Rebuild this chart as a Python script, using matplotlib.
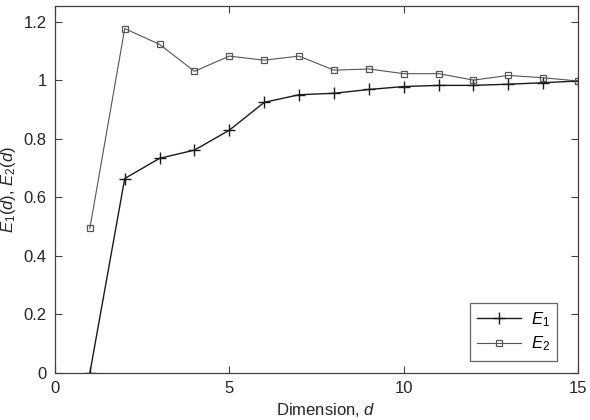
import matplotlib
matplotlib.use("Agg")
import matplotlib.pyplot as plt

plt.rcParams['font.family'] = ['Liberation Sans', 'DejaVu Sans']
plt.rcParams['mathtext.fontset'] = 'custom'
plt.rcParams['mathtext.rm'] = 'Liberation Sans'
plt.rcParams['mathtext.it'] = 'Liberation Sans:italic'

d = list(range(1, 16))
E1 = [0.0, 0.664, 0.733, 0.761, 0.829, 0.924, 0.950, 0.955, 0.968, 0.978, 0.982, 0.982, 0.986, 0.991, 0.997]
E2 = [0.494, 1.176, 1.122, 1.030, 1.082, 1.068, 1.082, 1.034, 1.038, 1.022, 1.022, 1.000, 1.016, 1.008, 0.997]

fig = plt.figure(figsize=(5.9, 4.2), dpi=100)
ax = fig.add_axes([0.0932, 0.1119, 0.8865, 0.8738])

ax.plot(d, E1, color='#1a1a1a', lw=1.0, marker='+', ms=8.5, mew=1.0, label='$E_1$')
ax.plot(d, E2, color='#555555', lw=0.8, marker='s', ms=4.5, mfc='none', mew=0.9, label='$E_2$')

ax.set_xlim(0, 15)
ax.set_ylim(0, 1.253)
ax.set_xticks([0, 5, 10, 15])
ax.set_xticklabels(['0', '5', '10', '15'])
ax.set_yticks([0, 0.2, 0.4, 0.6, 0.8, 1.0, 1.2])
ax.set_yticklabels(['0', '0.2', '0.4', '0.6', '0.8', '1', '1.2'])
ax.tick_params(direction='in', top=True, right=True, length=5, width=0.8,
               color='#404040', labelsize=12, labelcolor='#262626', pad=6)
for s in ax.spines.values():
    s.set_color('#404040')
    s.set_linewidth(0.9)

ax.set_xlabel('Dimension, $d$', fontsize=12, color='#262626', labelpad=5)
ax.xaxis.set_label_coords(0.517, -0.077)
ax.set_ylabel('$E_1(d)$, $E_2(d)$', fontsize=12, color='#262626', labelpad=4)

leg = ax.legend(loc='lower right', bbox_to_anchor=(0.960, 0.033), borderaxespad=0,
                fontsize=12, frameon=True, fancybox=False, edgecolor='#404040',
                handlelength=2.6, handletextpad=0.6, borderpad=0.45, labelspacing=0.35)
leg.get_frame().set_linewidth(0.9)

fig.savefig('out.png', dpi=100)
